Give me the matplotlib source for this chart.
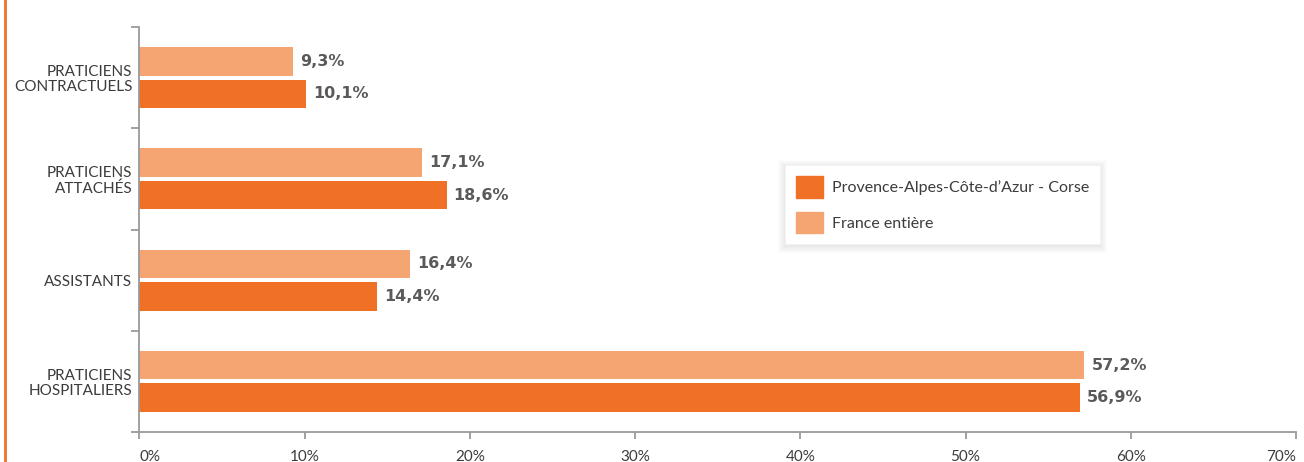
import matplotlib
matplotlib.use("Agg")
import matplotlib.pyplot as plt
from matplotlib.patches import Rectangle
from matplotlib.lines import Line2D

# ===================== DATA =====================
categories = ["PRATICIENS\nCONTRACTUELS", "PRATICIENS\nATTACHÉS", "ASSISTANTS", "PRATICIENS\nHOSPITALIERS"]
paca = [10.1, 18.6, 14.4, 56.9]
france = [9.3, 17.1, 16.4, 57.2]
series_names = ["Provence-Alpes-Côte-d’Azur - Corse", "France entière"]
xticks = [0, 10, 20, 30, 40, 50, 60, 70]

DARK = "#F07026"
LIGHT = "#F5A572"
AXIS = "#9a9a9a"
TEXT = "#3c3c3c"
LABEL = "#5a5a5a"

plt.rcParams["font.family"] = ["Lato", "DejaVu Sans"]

fig = plt.figure(figsize=(13.04, 4.62), dpi=100)
ax = fig.add_axes([139.3 / 1304, 1 - 432 / 462, (1296 - 139.3) / 1304, (432 - 27) / 462])

# top category at the top
ypos = [len(categories) - 1 - i for i in range(len(categories))]
h = 0.28
off = 0.16

ax.barh([y + off for y in ypos], france, height=h, color=LIGHT, label=series_names[1], zorder=2)
ax.barh([y - off for y in ypos], paca, height=h, color=DARK, label=series_names[0], zorder=2)


def pct(v):
    return f"{v:.1f}%".replace(".", ",")


for y, v in zip(ypos, france):
    ax.annotate(pct(v), (v, y + off), xytext=(5, 0), textcoords="offset points",
                va="center", ha="left", fontsize=11.5, fontweight="bold", color=LABEL,
                family="DejaVu Sans")
for y, v in zip(ypos, paca):
    ax.annotate(pct(v), (v, y - off), xytext=(5, 0), textcoords="offset points",
                va="center", ha="left", fontsize=11.5, fontweight="bold", color=LABEL,
                family="DejaVu Sans")

ax.set_xlim(0, 70)
ax.set_ylim(-0.5, len(categories) - 0.5)

# axes styling
for s in ["top", "right"]:
    ax.spines[s].set_visible(False)
for s in ["left", "bottom"]:
    ax.spines[s].set_color(AXIS)
    ax.spines[s].set_linewidth(1.3)

ax.set_xticks(xticks)
ax.set_xticklabels([f"{t}%" for t in xticks], fontsize=11, color=TEXT)
labels = ax.get_xticklabels()
labels[0].set_ha("left")
labels[-1].set_ha("right")
ax.tick_params(axis="x", length=5, width=1.3, color=AXIS, pad=8)

ax.set_yticks([b - 0.5 for b in range(len(categories) + 1)])
ax.set_yticklabels([])
ax.tick_params(axis="y", which="major", length=6, width=1.3, color=AXIS)
ax.set_yticks(ypos, minor=True)
ax.set_yticklabels(categories, minor=True, fontsize=11, color=TEXT, linespacing=1.1)
ax.tick_params(axis="y", which="minor", length=0, pad=5)

# legend
handles = [Rectangle((0, 0), 1, 1, color=DARK), Rectangle((0, 0), 1, 1, color=LIGHT)]
leg = ax.legend(handles, series_names, loc="upper left", bbox_to_anchor=(0.558, 0.659),
                borderaxespad=0, frameon=True, fancybox=False, framealpha=1, fontsize=11.5,
                handlelength=1.7, handleheight=1.7, handletextpad=0.55,
                labelspacing=0.9, borderpad=0.68, labelcolor=TEXT)
leg.get_frame().set_edgecolor("#f2f2f2")
leg.get_frame().set_linewidth(0.5)
leg.get_frame().set_facecolor("white")
leg.set_zorder(10)

# soft shadow behind legend
fig.canvas.draw()
bb = leg.get_window_extent()
for i in range(1, 9):
    ax.add_patch(Rectangle((bb.x0 - i + 1, bb.y0 - i - 1), bb.width + 2 * i - 2, bb.height + 2 * i - 2,
                           transform=None, facecolor="black", edgecolor="none", alpha=0.012, zorder=9))

# orange vertical rule on the left edge
fig.add_artist(Line2D([4.5 / 1304, 4.5 / 1304], [0, 1], color=DARK, linewidth=2, transform=fig.transFigure))

fig.savefig("out.png", dpi=100)
